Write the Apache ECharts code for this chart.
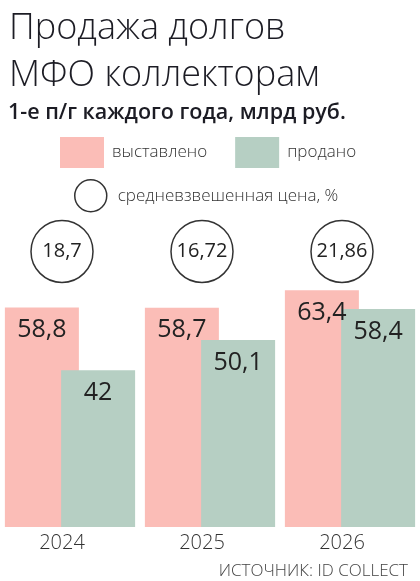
<!DOCTYPE html>
<html>
<head>
<meta charset="utf-8">
<script src="https://cdn.jsdelivr.net/npm/echarts@6/dist/echarts.min.js"></script>
<style>
  html, body { margin: 0; padding: 0; background: #fff; }
  #chart { width: 420px; height: 581px; }
</style>
</head>
<body>
<div id="chart"></div>
<script>
// данные
const years = ['2024', '2025', '2026'];
const listed = [58.8, 58.7, 63.4];      // выставлено
const sold = [42, 50.1, 58.4];          // продано
const avgPrice = [18.7, 16.72, 21.86];  // средневзвешенная цена, %

const PINK = '#fbbdb7';
const GREEN = '#b6cfc3';
const FONT = '"Open Sans", "Noto Sans", sans-serif';

// форматирование с запятой
const fmt = v => String(v).replace('.', ',');

const chart = echarts.init(document.getElementById('chart'));

const option = {
    animation: false,
    textStyle: { fontFamily: FONT },
    title: [
        {
            text: 'Продажа долгов\nМФО коллекторам',
            left: 4,
            top: 0,
            textStyle: { fontSize: 36, fontWeight: 300, lineHeight: 47, color: '#1c1c24', fontFamily: FONT }
        },
        {
            text: '1-е п/г каждого года, млрд руб.',
            left: 3,
            top: 97,
            textStyle: { fontSize: 21.5, fontWeight: 600, color: '#1c1c24', fontFamily: FONT }
        },
        {
            text: 'ИСТОЧНИК: ID COLLECT',
            right: 7,
            top: 558,
            textStyle: { fontSize: 17, fontWeight: 300, color: '#444', fontFamily: FONT }
        }
    ],
    legend: [
        {
            data: [
                { name: 'выставлено', icon: 'rect' },
                { name: 'продано', icon: 'rect' }
            ],
            left: 60,
            top: 137,
            padding: 0,
            itemWidth: 44,
            itemHeight: 31,
            itemGap: 28,
            selectedMode: false,
            textStyle: { fontSize: 17, color: '#333', fontWeight: 300, padding: [0, 0, 0, 3] }
        },
        {
            data: [{
                name: 'средневзвешенная цена, %',
                icon: 'circle',
                itemStyle: { color: '#fff', borderColor: '#333', borderWidth: 1.5 }
            }],
            left: 74,
            top: 179,
            padding: 0,
            itemWidth: 32,
            itemHeight: 32,
            selectedMode: false,
            textStyle: { fontSize: 17, color: '#333', fontWeight: 300, padding: [0, 0, 0, 6] }
        }
    ],
    grid: { left: 0, right: 0, top: 191, bottom: 54 },
    xAxis: {
        type: 'category',
        data: years,
        axisLine: { show: false },
        axisTick: { show: false },
        axisLabel: {
            fontSize: 20,
            color: '#333',
            fontWeight: 300,
            margin: 6,
            padding: [0, 16, 0, 0]
        }
    },
    yAxis: [
        { type: 'value', min: 0, max: 90, show: false },
        { type: 'value', min: 0, max: 1, show: false }
    ],
    series: [
        {
            name: 'выставлено',
            type: 'bar',
            data: listed,
            barWidth: 74,
            barGap: '-24%',
            itemStyle: { color: PINK },
            label: {
                show: true,
                position: 'insideTop',
                distance: 10,
                fontSize: 25,
                color: '#222',
                formatter: p => fmt(p.value)
            }
        },
        {
            name: 'продано',
            type: 'bar',
            data: sold,
            barWidth: 74,
            itemStyle: { color: GREEN },
            label: {
                show: true,
                position: 'insideTop',
                distance: 10,
                fontSize: 25,
                color: '#222',
                formatter: p => fmt(p.value)
            }
        },
        {
            name: 'средневзвешенная цена, %',
            type: 'scatter',
            yAxisIndex: 1,
            symbol: 'circle',
            symbolSize: 62,
            symbolOffset: [-8, 0],
            data: avgPrice.map((v, i) => ({ value: [years[i], 0.82], price: v })),
            itemStyle: { color: '#fff', borderColor: '#333', borderWidth: 1.5, opacity: 1 },
            label: {
                show: true,
                position: 'inside',
                fontSize: 20,
                color: '#222',
                formatter: p => fmt(p.data.price)
            }
        }
    ]
};

chart.setOption(option);
</script>
</body>
</html>
